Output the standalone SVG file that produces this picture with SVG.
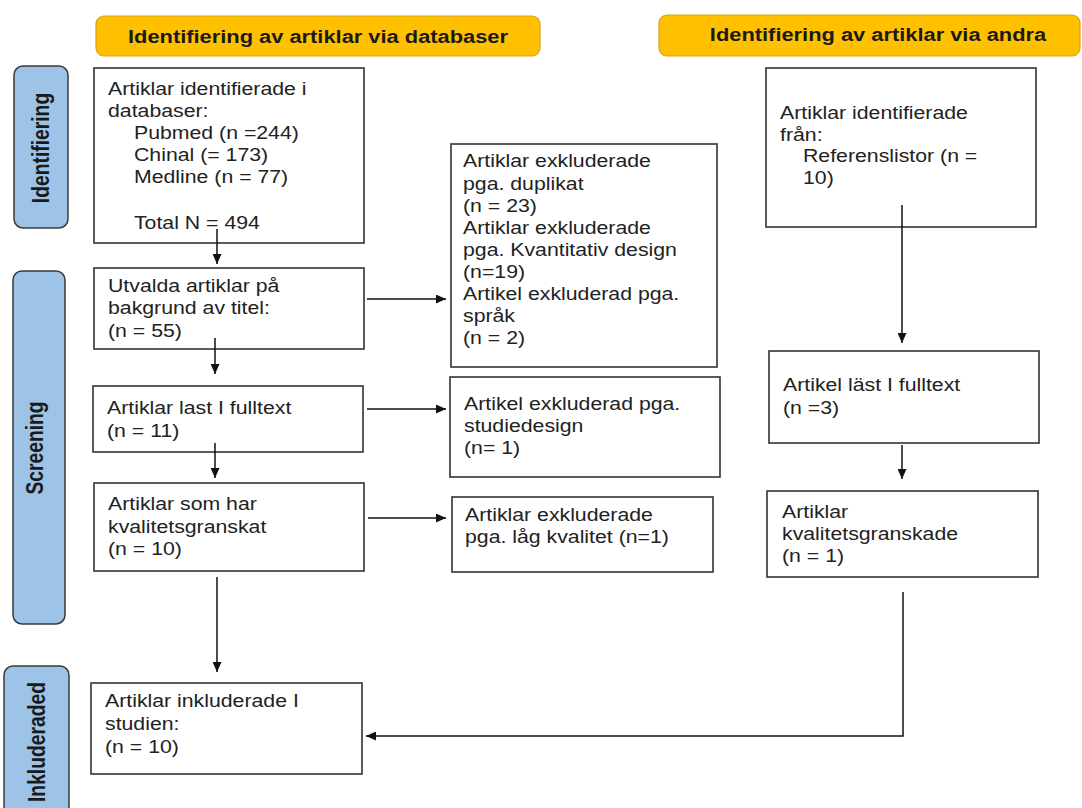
<svg xmlns="http://www.w3.org/2000/svg" width="1082" height="808" viewBox="0 0 1082 808">
<style>
.hdr{fill:#FFC000;stroke:#D9A21A;stroke-width:1.2}
.hdrt{font-family:"Liberation Sans",Arial,sans-serif;font-weight:bold;font-size:19px;fill:#1a1a1a;text-anchor:middle}
.side{fill:#9DC3E6;stroke:#3a3a3a;stroke-width:1.5}
.sidet{font-family:"Liberation Sans",Arial,sans-serif;font-weight:bold;font-size:19.3px;fill:#1a1a1a;text-anchor:middle}
.box{fill:#ffffff;stroke:#333333;stroke-width:1.6}
.t{font-family:"Liberation Sans",Arial,sans-serif;font-size:18.5px;fill:#222222}
.c{fill:none;stroke:#111111;stroke-width:1.5}
</style>
<defs>
<marker id="ah" markerUnits="userSpaceOnUse" markerWidth="10" markerHeight="9" refX="10" refY="4.5" orient="auto">
<path d="M0,0 L10,4.5 L0,9 z" fill="#111111"/>
</marker>
</defs>
<rect width="1082" height="808" fill="#ffffff"/>

<g id="header-databaser">
<rect class="hdr" x="96" y="16" width="444" height="40" rx="8"/>
<text class="hdrt" transform="translate(318,0) scale(1.15,1)" x="0" y="43">Identifiering av artiklar via databaser</text>
</g>
<g id="header-andra">
<rect class="hdr" x="659" y="15" width="421" height="41" rx="8"/>
<text class="hdrt" transform="translate(878,0) scale(1.15,1)" x="0" y="41">Identifiering av artiklar via andra</text>
</g>

<g id="phase-identifiering">
<rect class="side" x="14" y="66" width="54" height="162" rx="9"/>
<text class="sidet" transform="translate(41,148) scale(1.2,1) rotate(-90)" x="0" y="7">Identifiering</text>
</g>
<g id="phase-screening">
<rect class="side" x="13" y="271" width="52" height="353" rx="9"/>
<text class="sidet" transform="translate(35,448) scale(1.2,1) rotate(-90)" x="0" y="7">Screening</text>
</g>
<g id="phase-inkluderaded">
<rect class="side" x="4" y="666" width="65" height="160" rx="9"/>
<text class="sidet" transform="translate(37,742) scale(1.2,1) rotate(-90)" x="0" y="7">Inkluderaded</text>
</g>

<g id="node-databaser">
<rect class="box" x="94" y="68" width="270" height="175"/>
<text class="t" transform="translate(108,0) scale(1.15,1)">
<tspan x="0" y="95">Artiklar identifierade i</tspan>
<tspan x="0" y="117">databaser:</tspan>
<tspan x="22.6" y="139">Pubmed (n =244)</tspan>
<tspan x="22.6" y="161">Chinal (= 173)</tspan>
<tspan x="22.6" y="183">Medline (n = 77)</tspan>
<tspan x="22.6" y="229">Total N = 494</tspan>
</text>
</g>

<g id="node-utvalda">
<rect class="box" x="94" y="268" width="270" height="81"/>
<text class="t" transform="translate(108,0) scale(1.15,1)">
<tspan x="0" y="292">Utvalda artiklar på</tspan>
<tspan x="0" y="314">bakgrund av titel:</tspan>
<tspan x="0" y="337">(n = 55)</tspan>
</text>
</g>

<g id="node-fulltext">
<rect class="box" x="93" y="386" width="270" height="66"/>
<text class="t" transform="translate(107,0) scale(1.15,1)">
<tspan x="0" y="414">Artiklar last I fulltext</tspan>
<tspan x="0" y="437">(n = 11)</tspan>
</text>
</g>

<g id="node-kvalitet">
<rect class="box" x="94" y="483" width="270" height="88"/>
<text class="t" transform="translate(108,0) scale(1.15,1)">
<tspan x="0" y="510">Artiklar som har</tspan>
<tspan x="0" y="533">kvalitetsgranskat</tspan>
<tspan x="0" y="555">(n = 10)</tspan>
</text>
</g>

<g id="node-inkluderade">
<rect class="box" x="91" y="683" width="271" height="91"/>
<text class="t" transform="translate(105,0) scale(1.15,1)">
<tspan x="0" y="707">Artiklar inkluderade I</tspan>
<tspan x="0" y="730">studien:</tspan>
<tspan x="0" y="753">(n = 10)</tspan>
</text>
</g>

<g id="node-exkl1">
<rect class="box" x="451" y="144" width="266" height="223"/>
<text class="t" transform="translate(463,0) scale(1.15,1)">
<tspan x="0" y="167">Artiklar exkluderade</tspan>
<tspan x="0" y="190">pga. duplikat</tspan>
<tspan x="0" y="212">(n = 23)</tspan>
<tspan x="0" y="234">Artiklar exkluderade</tspan>
<tspan x="0" y="256">pga. Kvantitativ design</tspan>
<tspan x="0" y="278">(n=19)</tspan>
<tspan x="0" y="300">Artikel exkluderad pga.</tspan>
<tspan x="0" y="322">språk</tspan>
<tspan x="0" y="344">(n = 2)</tspan>
</text>
</g>

<g id="node-exkl2">
<rect class="box" x="450" y="377" width="270" height="100"/>
<text class="t" transform="translate(464,0) scale(1.15,1)">
<tspan x="0" y="410">Artikel exkluderad pga.</tspan>
<tspan x="0" y="432">studiedesign</tspan>
<tspan x="0" y="454">(n= 1)</tspan>
</text>
</g>

<g id="node-exkl3">
<rect class="box" x="452" y="497" width="261" height="75"/>
<text class="t" transform="translate(465,0) scale(1.15,1)">
<tspan x="0" y="521">Artiklar exkluderade</tspan>
<tspan x="0" y="543">pga. låg kvalitet (n=1)</tspan>
</text>
</g>

<g id="node-referens">
<rect class="box" x="766" y="68" width="270" height="159"/>
<text class="t" transform="translate(780,0) scale(1.15,1)">
<tspan x="0" y="119">Artiklar identifierade</tspan>
<tspan x="0" y="141">från:</tspan>
<tspan x="20" y="162">Referenslistor (n =</tspan>
<tspan x="20" y="184">10)</tspan>
</text>
</g>

<g id="node-last">
<rect class="box" x="769" y="351" width="270" height="92"/>
<text class="t" transform="translate(783,0) scale(1.15,1)">
<tspan x="0" y="391">Artikel läst I fulltext</tspan>
<tspan x="0" y="414">(n =3)</tspan>
</text>
</g>

<g id="node-kvalitet2">
<rect class="box" x="767" y="491" width="271" height="86"/>
<text class="t" transform="translate(782,0) scale(1.15,1)">
<tspan x="0" y="518">Artiklar</tspan>
<tspan x="0" y="540">kvalitetsgranskade</tspan>
<tspan x="0" y="562">(n = 1)</tspan>
</text>
</g>

<g id="connectors">
<line class="c" x1="217" y1="229" x2="217" y2="264" marker-end="url(#ah)"/>
<line class="c" x1="215" y1="338" x2="215" y2="374" marker-end="url(#ah)"/>
<line class="c" x1="215" y1="443" x2="215" y2="478" marker-end="url(#ah)"/>
<line class="c" x1="217" y1="577" x2="217" y2="672" marker-end="url(#ah)"/>
<line class="c" x1="367" y1="299" x2="446" y2="299" marker-end="url(#ah)"/>
<line class="c" x1="367" y1="409" x2="446" y2="409" marker-end="url(#ah)"/>
<line class="c" x1="368" y1="518" x2="446" y2="518" marker-end="url(#ah)"/>
<line class="c" x1="902" y1="205" x2="902" y2="343" marker-end="url(#ah)"/>
<line class="c" x1="902" y1="445" x2="902" y2="479" marker-end="url(#ah)"/>
<path class="c" d="M903,592 V736 H366" marker-end="url(#ah)"/>
</g>
</svg>
